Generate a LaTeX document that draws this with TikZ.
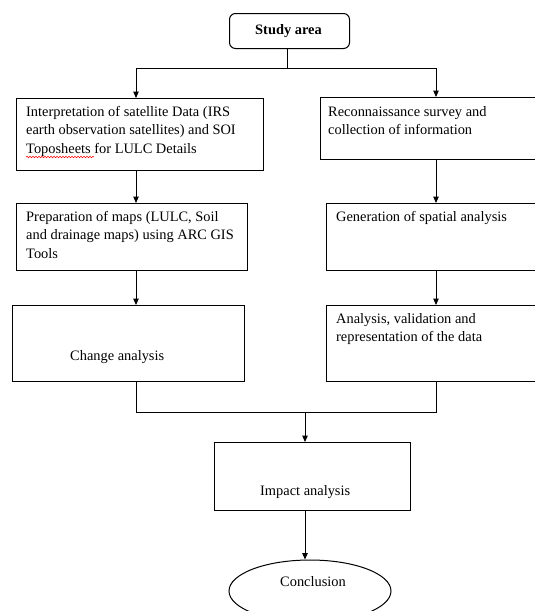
\documentclass[tikz,border=0pt]{standalone}
\usepackage{fontspec}
\setmainfont{Liberation Serif}
\usetikzlibrary{arrows.meta,shapes.geometric,decorations.pathmorphing}
\newcommand\mylines[1]{\vtop{\halign{##\hfil\cr#1\crcr}}}
\begin{document}
\begin{tikzpicture}[x=1pt,y=-1pt,
  box/.style={draw,line width=1pt,inner sep=0pt,anchor=north west},
  txt/.style={anchor=base west,inner sep=0pt,font=\fontsize{14.4}{18.5}\selectfont},
  ln/.style={line width=1pt},
  arr/.style={line width=1pt,-{Triangle[length=6.5pt,width=5.5pt]}}]
\useasboundingbox (0,0) rectangle (535,611);
\fill[white] (0,0) rectangle (535,611);
\clip (0,0) rectangle (535,611);
% boxes
\node[box,rounded corners=6pt,minimum width=120pt,minimum height=35pt] (sa) at (229,13) {};
\node[box,minimum width=247pt,minimum height=72pt] (l1) at (16,98) {};
\node[box,minimum width=222pt,minimum height=62pt] (r1) at (320,97) {};
\node[box,minimum width=231pt,minimum height=67pt] (l2) at (16,203) {};
\node[box,minimum width=216pt,minimum height=67pt] (r2) at (326,203) {};
\node[box,minimum width=232pt,minimum height=76pt] (l3) at (12,305) {};
\node[box,minimum width=216pt,minimum height=76pt] (r3) at (326,305) {};
\node[box,minimum width=196pt,minimum height=68pt] (imp) at (214,442) {};
\node[draw,ellipse,line width=1pt,minimum width=162pt,minimum height=62pt,inner sep=0pt] (con) at (310,591) {};
% texts
\node[txt,font=\fontsize{14.4}{18.5}\selectfont\bfseries] (tsa) at (255,34) {Study area};
\node[txt] (tl1) at (26,116) {\mylines{Interpretation of satellite Data (IRS\cr earth observation satellites) and SOI\cr Toposheets for LULC Details}};
\node[txt] (tr1) at (328,116) {\mylines{Reconnaissance survey and\cr collection of information}};
\node[txt] (tl2) at (26,221) {\mylines{Preparation of maps (LULC, Soil\cr and drainage maps) using ARC GIS\cr Tools}};
\node[txt] (tr2) at (336,221) {Generation of spatial analysis};
\node[txt] (tr3) at (336,323) {\mylines{Analysis, validation and\cr representation of the data}};
\node[txt] (tl3) at (70,360) {Change analysis};
\node[txt] (timp) at (260,495) {Impact analysis};
\node[txt] (tcon) at (280,586) {Conclusion};
% spell-check squiggle
\coordinate (sq1) at (26,157);
\coordinate (sq2) at (94,157);
\draw[red,line width=0.5pt,decorate,decoration={snake,amplitude=0.8pt,segment length=3pt}] (sq1) -- (sq2);
% connectors
\coordinate (xl) at (136,0);
\coordinate (xr) at (436,0);
\coordinate (top) at (287,68);
\coordinate (bot) at (305,412);
\draw[ln] (sa.south -| top) -- (top);
\draw[arr] (top) -| (l1.north -| xl);
\draw[arr] (top) -| (r1.north -| xr);
\draw[arr] (l1.south -| xl) -- (l2.north -| xl);
\draw[arr] (r1.south -| xr) -- (r2.north -| xr);
\draw[arr] (l2.south -| xl) -- (l3.north -| xl);
\draw[arr] (r2.south -| xr) -- (r3.north -| xr);
\draw[ln] (l3.south -| xl) -- (xl |- bot) -- (xr |- bot) -- (r3.south -| xr);
\draw[arr] (bot) -- (imp.north -| bot);
\draw[arr] (imp.south -| bot) -- (bot |- con.north);
\end{tikzpicture}
\end{document}
